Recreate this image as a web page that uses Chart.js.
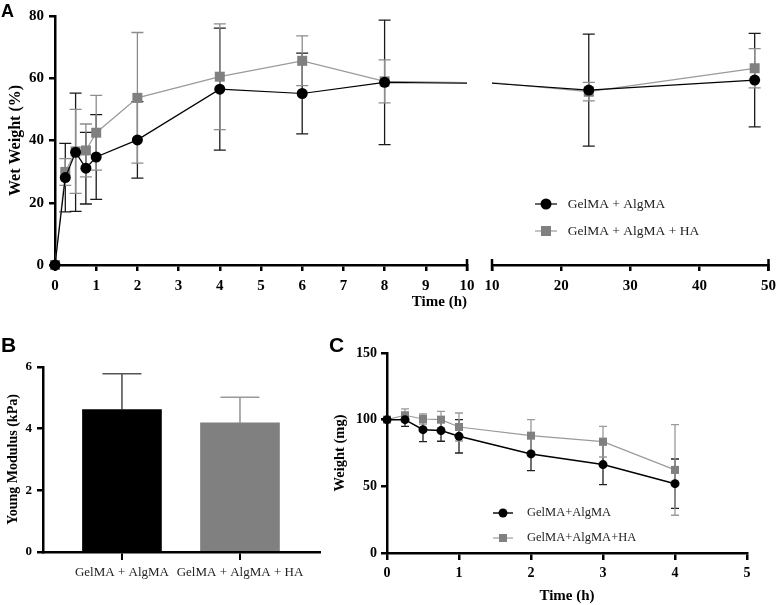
<!DOCTYPE html>
<html><head><meta charset="utf-8">
<script src="https://cdn.jsdelivr.net/npm/chart.js@4.4.0/dist/chart.umd.min.js"></script>
<style>
html,body{margin:0;padding:0;background:#fff;}
#wrap{position:relative;width:782px;height:605px;overflow:hidden;background:#fff;}
canvas{position:absolute;left:0;top:0;}
.lbl{position:absolute;font-family:'Liberation Sans',Arial,sans-serif;font-weight:bold;color:#000;line-height:1;}
</style></head><body>
<div id="wrap">
<canvas id="cA1" width="782" height="605"></canvas>
<canvas id="cA2" width="782" height="605"></canvas>
<canvas id="cB" width="782" height="605"></canvas>
<canvas id="cC" width="782" height="605"></canvas>
<div class="lbl" style="left:1px;top:1.5px;font-size:18px">A</div>
<div class="lbl" style="left:1px;top:333.5px;font-size:21px">B</div>
<div class="lbl" style="left:329px;top:334px;font-size:21px">C</div>
</div>
<script>
// ---------- DATA ----------
// Panel A: wet weight (%) vs time (h)
const timeA = [0, 0.25, 0.5, 0.75, 1, 2, 4, 6, 8, 24, 48];
const wetAlg = [0, 28.1, 36.2, 31.1, 34.7, 40.2, 56.5, 55.1, 58.7, 56.2, 59.4];
const wetAlgErr = [0, 11, 19, 11.5, 13.6, 12.3, 19.6, 13, 20, 18, 15];
const wetHA = [0, 29.9, 36.5, 36.8, 42.5, 53.7, 60.5, 65.6, 59, 55.7, 63.2];
const wetHAErr = [0, 4.3, 13.5, 8.5, 12, 21, 17, 8, 6.9, 3, 6.3];
const seriesNamesA = ['GelMA + AlgMA', 'GelMA + AlgMA + HA'];
const yTicksA = [0, 20, 40, 60, 80];
const xTicksA1 = [0, 1, 2, 3, 4, 5, 6, 7, 8, 9, 10];
const xTicksA2 = [10, 20, 30, 40, 50];

// Panel B: Young modulus (kPa)
const categoriesB = ['GelMA + AlgMA', 'GelMA + AlgMA + HA'];
const modulusB = [4.62, 4.19];
const modulusErrB = [1.16, 0.83];
const yTicksB = [0, 2, 4, 6];

// Panel C: weight (mg) vs time (h)
const timeC = [0, 0.25, 0.5, 0.75, 1, 2, 3, 4];
const wtAlg = [100, 100, 92.5, 91.8, 87.5, 74.3, 66.3, 52];
const wtAlgErr = [0, 5, 9, 8, 12.5, 12.5, 15, 18.5];
const wtHA = [100, 103.3, 100.5, 100, 94.5, 88, 83.5, 62.3];
const wtHAErr = [0, 4.75, 3.75, 6.25, 10.5, 12, 11.5, 34];
const seriesNamesC = ['GelMA+AlgMA', 'GelMA+AlgMA+HA'];
const yTicksC = [0, 50, 100, 150];
const xTicksC = [0, 1, 2, 3, 4, 5];

// ---------- HELPERS ----------
const serif = "'Liberation Serif', 'Times New Roman', serif";
function pts(xs, ys) { return xs.map((x, i) => ({x: x, y: ys[i]})); }
function setTicks(arr) { return (scale) => { scale.ticks = arr.map(v => ({value: v})); }; }

const errorBars = {
  id: 'errorBars',
  beforeDatasetsDraw(chart) {
    const ctx = chart.ctx, xs = chart.scales.x, ys = chart.scales.y;
    chart.data.datasets.forEach((ds, di) => {
      if (!ds.errors) return;
      const meta = chart.getDatasetMeta(di);
      ctx.save();
      ctx.lineWidth = ds.errorWidth;
      meta.data.forEach((el, i) => {
        const d = ds.data[i], e = ds.errors[i];
        if (!e || d.x < xs.min || d.x > xs.max) return;
        ctx.strokeStyle = Array.isArray(ds.errorColor) ? ds.errorColor[i] : ds.errorColor;
        const x = el.x;
        const yTop = ys.getPixelForValue(d.y + e);
        const yBot = ds.errorUpOnly ? ys.getPixelForValue(d.y) : ys.getPixelForValue(d.y - e);
        const hw = ds.errorCap / 2;
        ctx.beginPath();
        ctx.moveTo(x, yTop); ctx.lineTo(x, yBot);
        ctx.moveTo(x - hw, yTop); ctx.lineTo(x + hw, yTop);
        if (!ds.errorUpOnly) { ctx.moveTo(x - hw, yBot); ctx.lineTo(x + hw, yBot); }
        ctx.stroke();
      });
      ctx.restore();
    });
  }
};

const caps = {
  id: 'caps',
  afterDraw(chart, args, opts) {
    if (!opts || !opts.values) return;
    const ctx = chart.ctx, xs = chart.scales.x, y = chart.chartArea.bottom;
    ctx.save(); ctx.strokeStyle = '#000'; ctx.lineWidth = 2.5;
    opts.values.forEach(v => {
      const px = xs.getPixelForValue(v);
      ctx.beginPath(); ctx.moveTo(px, y - 6); ctx.lineTo(px, y + 6); ctx.stroke();
    });
    ctx.restore();
  }
};

const legendPlace = {
  id: 'legendPlace',
  afterLayout(chart, args, opts) {
    const lg = chart.legend;
    if (!lg || !opts || opts.x === undefined) return;
    const w = lg.width, h = lg.height;
    lg.left = opts.x; lg.top = opts.y; lg.right = opts.x + w; lg.bottom = opts.y + h;
  }
};

function icon(w, h, lineColor, lineW, shape, size, fill) {
  const c = document.createElement('canvas'); c.width = w; c.height = h;
  const g = c.getContext('2d');
  g.strokeStyle = lineColor; g.lineWidth = lineW;
  g.beginPath(); g.moveTo(0, h / 2); g.lineTo(w, h / 2); g.stroke();
  g.fillStyle = fill;
  if (shape === 'circle') { g.beginPath(); g.arc(w / 2, h / 2, size, 0, Math.PI * 2); g.fill(); }
  else { g.fillRect(w / 2 - size / 2, h / 2 - size / 2, size, size); }
  return c;
}
const iconsA = [icon(22, 14, '#000', 1.2, 'circle', 5.5, '#000'), icon(22, 14, '#9a9a9a', 1.2, 'rect', 10, '#808080')];
const iconsC = [icon(20, 12, '#000', 1.4, 'circle', 4.5, '#000'), icon(20, 12, '#9a9a9a', 1.2, 'rect', 8, '#808080')];

function axis(o) {
  return Object.assign({
    border: {display: true, color: '#000', width: 2.5},
    grid: {display: true, drawOnChartArea: false, drawTicks: true, tickLength: 6, color: '#000', lineWidth: 2.5},
    ticks: {color: '#000', font: {family: serif, size: 15, weight: 'bold'}, padding: 5, maxRotation: 0, autoSkip: false}
  }, o);
}

Chart.defaults.animation = false;
Chart.defaults.responsive = false;
Chart.defaults.maintainAspectRatio = false;

function dsA(which, clip) {
  if (which === 0) return {
    label: seriesNamesA[0], data: pts(timeA, wetAlg), borderColor: '#000', borderWidth: 1.2, tension: 0,
    pointStyle: 'circle', pointRadius: 5.5, pointBackgroundColor: '#000', pointBorderWidth: 0, pointHoverRadius: 5.5,
    errors: wetAlgErr, errorColor: '#1a1a1a', errorWidth: 1.3, errorCap: 12, clip: clip
  };
  return {
    label: seriesNamesA[1], data: pts(timeA, wetHA), borderColor: '#9a9a9a', borderWidth: 1.2, tension: 0,
    pointStyle: 'rect', pointRadius: 7.07, pointBackgroundColor: '#808080', pointBorderWidth: 0, pointHoverRadius: 7.07,
    errors: wetHAErr, errorColor: '#8c8c8c', errorWidth: 1.3, errorCap: 12, clip: clip
  };
}

// ---------- PANEL A (left segment) ----------
new Chart(document.getElementById('cA1'), {
  type: 'line',
  data: {datasets: [dsA(0, {left: 10, top: 10, right: 0, bottom: 10}), dsA(1, {left: 10, top: 10, right: 0, bottom: 10})]},
  options: {
    layout: {padding: {left: 0, top: 16, right: 315, bottom: 290}, autoPadding: false},
    plugins: {legend: {display: false}, tooltip: {enabled: false}, caps: {values: [10]}},
    scales: {
      x: axis({type: 'linear', min: 0, max: 10, afterBuildTicks: setTicks(xTicksA1),
        afterFit: (s) => { s.height = 50; },
        ticks: {color: '#000', font: {family: serif, size: 15, weight: 'bold'}, padding: 6, maxRotation: 0, autoSkip: false},
        title: {display: true, text: 'Time (h)', align: 'end', color: '#000', font: {family: serif, size: 15, weight: 'bold'}, padding: {top: 0, bottom: 4}}}),
      y: axis({type: 'linear', min: 0, max: 80, afterBuildTicks: setTicks(yTicksA),
        afterFit: (s) => { s.width = 55; },
        title: {display: true, text: 'Wet Weight (%)', color: '#000', font: {family: serif, size: 16, weight: 'bold'}, padding: {top: 6, bottom: 0}}})
    }
  },
  plugins: [errorBars, caps]
});

// ---------- PANEL A (right segment) ----------
new Chart(document.getElementById('cA2'), {
  type: 'line',
  data: {datasets: [dsA(0, {left: 0, top: 10, right: 10, bottom: 10}), dsA(1, {left: 0, top: 10, right: 10, bottom: 10})]},
  options: {
    layout: {padding: {left: 492, top: 16, right: 9, bottom: 290}, autoPadding: false},
    plugins: {
      tooltip: {enabled: false},
      caps: {values: [10, 50]},
      legend: {display: true, position: 'chartArea', align: 'start',
        labels: {usePointStyle: true, pointStyleWidth: 30, padding: 13.5, color: '#222',
          font: {family: serif, size: 13.5},
          generateLabels(chart) {
            const items = Chart.defaults.plugins.legend.labels.generateLabels(chart);
            items.forEach((it, i) => { it.pointStyle = iconsA[i]; it.text = seriesNamesA[i]; });
            return items;
          }}},
      legendPlace: {x: 517.5, y: 183.75}
    },
    scales: {
      x: axis({type: 'linear', min: 10, max: 50, afterBuildTicks: setTicks(xTicksA2),
        afterFit: (s) => { s.height = 50; },
        ticks: {color: '#000', font: {family: serif, size: 15, weight: 'bold'}, padding: 6, maxRotation: 0, autoSkip: false}}),
      y: {type: 'linear', min: 0, max: 80, display: false}
    }
  },
  plugins: [errorBars, caps, legendPlace]
});

// ---------- PANEL B ----------
new Chart(document.getElementById('cB'), {
  type: 'bar',
  data: {datasets: [{
    label: 'Young Modulus',
    data: modulusB.map((v, i) => ({x: i, y: v})),
    backgroundColor: ['#000000', '#808080'], borderWidth: 0, barThickness: 79,
    errors: modulusErrB, errorUpOnly: true, errorColor: ['#555555', '#999999'], errorWidth: 1.6, errorCap: 39
  }]},
  options: {
    layout: {padding: {left: 0, top: 367, right: 462, bottom: 13}, autoPadding: false},
    plugins: {legend: {display: false}, tooltip: {enabled: false}},
    scales: {
      x: axis({type: 'linear', offset: false, min: -0.669, max: 1.678, afterBuildTicks: setTicks(categoriesB.map((c, i) => i)),
        afterFit: (s) => { s.height = 40; },
        grid: {display: true, offset: false, drawOnChartArea: false, drawTicks: true, tickLength: 8, color: '#000', lineWidth: 2},
        ticks: {color: '#222', font: {family: serif, size: 13}, padding: 5, maxRotation: 0, autoSkip: false,
          callback: (v) => categoriesB[v] !== undefined ? categoriesB[v] : ''}}),
      y: axis({type: 'linear', min: 0, max: 6, afterBuildTicks: setTicks(yTicksB),
        afterFit: (s) => { s.width = 43; },
        ticks: {color: '#000', font: {family: serif, size: 13, weight: 'bold'}, padding: 5, maxRotation: 0, autoSkip: false},
        title: {display: true, text: 'Young Modulus (kPa)', color: '#000', font: {family: serif, size: 14, weight: 'bold'}, padding: {top: 4.6, bottom: 0}}})
    }
  },
  plugins: [errorBars]
});

// ---------- PANEL C ----------
new Chart(document.getElementById('cC'), {
  type: 'line',
  data: {datasets: [
    {label: seriesNamesC[0], data: pts(timeC, wtAlg), borderColor: '#000', borderWidth: 1.5, tension: 0,
      pointStyle: 'circle', pointRadius: 4.5, pointBackgroundColor: '#000', pointBorderWidth: 0, pointHoverRadius: 4.5,
      errors: wtAlgErr, errorColor: '#222', errorWidth: 1.3, errorCap: 8, clip: 10},
    {label: seriesNamesC[1], data: pts(timeC, wtHA), borderColor: '#9a9a9a', borderWidth: 1.2, tension: 0,
      pointStyle: 'rect', pointRadius: 5.7, pointBackgroundColor: '#808080', pointBorderWidth: 0, pointHoverRadius: 5.7,
      errors: wtHAErr, errorColor: '#9a9a9a', errorWidth: 1.3, errorCap: 8, clip: 10}
  ]},
  options: {
    layout: {padding: {left: 330, top: 353, right: 35, bottom: 0}, autoPadding: false},
    plugins: {
      tooltip: {enabled: false},
      legend: {display: true, position: 'chartArea', align: 'start',
        labels: {usePointStyle: true, pointStyleWidth: 35.5, padding: 12.5, color: '#222',
          font: {family: serif, size: 12.5},
          generateLabels(chart) {
            const items = Chart.defaults.plugins.legend.labels.generateLabels(chart);
            items.forEach((it, i) => { it.pointStyle = iconsC[i]; it.text = seriesNamesC[i]; });
            return items;
          }}},
      legendPlace: {x: 472.75, y: 494.25}
    },
    scales: {
      x: axis({type: 'linear', min: 0, max: 5, afterBuildTicks: setTicks(xTicksC),
        afterFit: (s) => { s.height = 52; },
        grid: {display: true, drawOnChartArea: false, drawTicks: true, tickLength: 7, color: '#000', lineWidth: 2.5},
        ticks: {color: '#000', font: {family: serif, size: 14, weight: 'bold'}, padding: 5, maxRotation: 0, autoSkip: false},
        title: {display: true, text: 'Time (h)', color: '#000', font: {family: serif, size: 15, weight: 'bold'}, padding: {top: 0, bottom: 0}}}),
      y: axis({type: 'linear', min: 0, max: 150, afterBuildTicks: setTicks(yTicksC),
        afterFit: (s) => { s.width = 57; },
        ticks: {color: '#000', font: {family: serif, size: 14, weight: 'bold'}, padding: 4, maxRotation: 0, autoSkip: false},
        title: {display: true, text: 'Weight (mg)', color: '#000', font: {family: serif, size: 14.5, weight: 'bold'}, padding: {top: 1.3, bottom: 0}}})
    }
  },
  plugins: [errorBars, legendPlace]
});
</script>
</body></html>
